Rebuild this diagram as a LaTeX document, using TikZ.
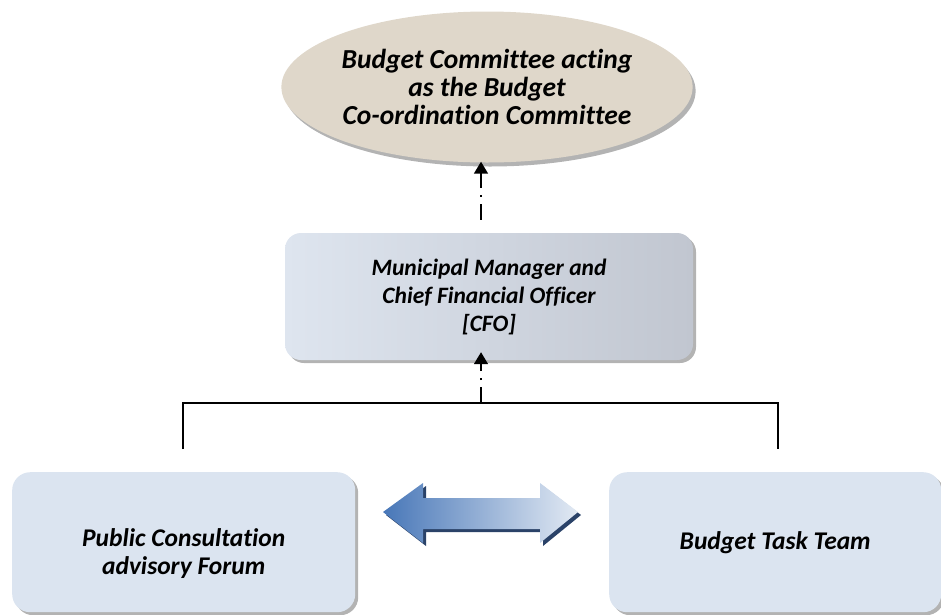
\documentclass[tikz,border=0pt]{standalone}
\usepackage{fontspec}
\setmainfont{Carlito}[Ligatures=NoCommon]
\usetikzlibrary{shapes.geometric,shadows,arrows.meta}
\definecolor{sand}{RGB}{223,215,202}
\definecolor{mistleft}{RGB}{222,229,239}
\definecolor{mistright}{RGB}{193,198,208}
\definecolor{paleblue}{RGB}{219,228,240}
\definecolor{deepblue}{RGB}{72,119,184}
\definecolor{navyshade}{RGB}{42,66,104}
\tikzset{
  label text/.style={align=center,font=\bfseries\itshape\fontsize{#1}{28}\selectfont},
  panel/.style={rectangle,rounded corners=18pt,fill=paleblue,drop shadow={shadow xshift=3pt,shadow yshift=-3pt,opacity=.6}},
  dashdot link/.style={-{Triangle[length=12pt,width=14pt]},line width=1.6pt,dash pattern=on 16pt off 7pt on 2pt off 7pt}
}
\begin{document}
\begin{tikzpicture}[x=1pt,y=-1pt]
  \useasboundingbox (0,0) rectangle (941,614);
  \node (Committee) [ellipse,inner sep=0pt,fill=sand,minimum width=411pt,minimum height=151pt,drop shadow={shadow xshift=3pt,shadow yshift=-4pt,opacity=.6},label text=27.5] at (487,87) {Budget Committee acting\\as the Budget\\Co-ordination Committee};
  \node (Manager) [rectangle,rounded corners=16pt,left color=mistleft,right color=mistright,minimum width=408pt,minimum height=127pt,drop shadow={shadow xshift=3pt,shadow yshift=-3pt,opacity=.6},label text=23.5] at (489,296.5) {Municipal Manager and\\Chief Financial Officer\\{[CFO]}};
  \node (Forum) [panel,minimum width=343pt,minimum height=140pt,anchor=north west,label text=25.5] at (12,472) {\rule{0pt}{40pt}Public Consultation\\advisory Forum};
  \node (TaskTeam) [panel,minimum width=332pt,minimum height=140pt,anchor=north west,label text=25.5] at (609,472) {Budget Task Team};
  \coordinate (ForumTop) at (183,449);
  \coordinate (TeamTop) at (778,449);
  \coordinate (BarMid) at (481,403);
  \coordinate (Exchange) at (480.5,512);
  \draw [line width=1.6pt] (ForumTop) -- (ForumTop |- BarMid) -- (TeamTop |- BarMid) -- (TeamTop);
  \draw [dashdot link,shorten >=-8pt] (BarMid) -- (BarMid |- Manager.south);
  \draw [dashdot link,shorten <=13pt,shorten >=-1pt] (BarMid |- Manager.north) -- (BarMid |- Committee.south);
  \fill [navyshade] ([shift={(3,3)}]Exchange) ++(-97.5,0) -- ++(40,-29) -- ++(0,15) -- ++(117,0) -- ++(0,-15) -- ++(38,29) -- ++(-38,31) -- ++(0,-14) -- ++(-117,0) -- ++(0,14) -- cycle;
  \path [left color=deepblue,right color=paleblue!80!white] (Exchange) ++(-97.5,0) -- ++(40,-29) -- ++(0,15) -- ++(117,0) -- ++(0,-15) -- ++(38,29) -- ++(-38,31) -- ++(0,-14) -- ++(-117,0) -- ++(0,14) -- cycle;
\end{tikzpicture}
\end{document}
